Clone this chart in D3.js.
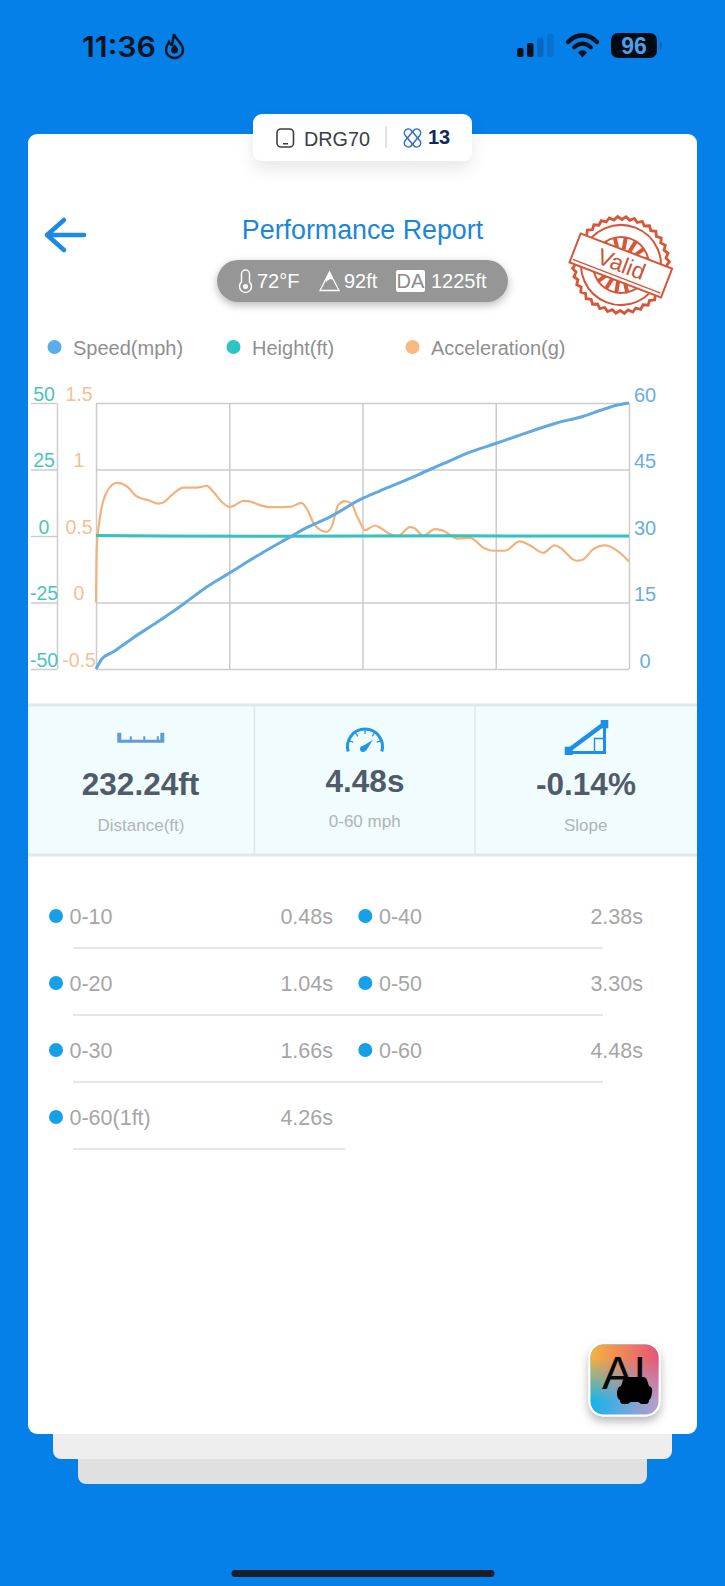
<!DOCTYPE html>
<html>
<head>
<meta charset="utf-8">
<script src="https://cdn.jsdelivr.net/npm/d3@7"></script>
<style>
  html, body { margin: 0; padding: 0; background: #0580e8; }
  svg { display: block; font-family: "Liberation Sans", Arial, sans-serif; }
</style>
</head>
<body>
<svg id="chart" width="725" height="1586"></svg>
<script>
// chart values
const speedTimes = [0, 0.048, 0.146, 0.314, 0.51, 0.622, 0.748, 0.93, 1.115, 1.378, 1.659, 1.743, 1.967, 2.219, 2.387, 2.555, 2.807, 2.919, 3.143, 3.353, 3.535, 3.872, 4.082, 4.236, 4.376, 4.48];
const speedValues = [0, 2.2, 3.9, 7.06, 10.5, 12.5, 14.9, 18.5, 21.55, 25.9, 30.2, 31.5, 34.3, 38.2, 40.2, 42.05, 45, 46.3, 48.9, 50.8, 52.5, 55.5, 56.9, 58.3, 59.5, 60];

const accelTimes = [0, 0.003, 0.008, 0.022, 0.048, 0.084, 0.132, 0.174, 0.216, 0.272, 0.328, 0.384, 0.44, 0.524, 0.566, 0.636, 0.734, 0.846, 0.93, 0.986, 1.056, 1.126, 1.168, 1.238, 1.28, 1.378, 1.462, 1.63, 1.728, 1.77, 1.84, 1.938, 1.98, 2.036, 2.092, 2.148, 2.19, 2.218, 2.26, 2.344, 2.386, 2.47, 2.54, 2.638, 2.68, 2.75, 2.848, 2.904, 3.044, 3.142, 3.268, 3.338, 3.436, 3.562, 3.646, 3.758, 3.856, 3.898, 4.038, 4.094, 4.178, 4.276, 4.374, 4.48];
const accelValues = [0, 0.243, 0.444, 0.569, 0.719, 0.819, 0.882, 0.899, 0.894, 0.864, 0.807, 0.782, 0.769, 0.744, 0.752, 0.807, 0.864, 0.864, 0.877, 0.832, 0.757, 0.719, 0.732, 0.764, 0.762, 0.732, 0.717, 0.719, 0.749, 0.707, 0.581, 0.531, 0.569, 0.732, 0.762, 0.744, 0.656, 0.606, 0.544, 0.579, 0.564, 0.514, 0.501, 0.566, 0.556, 0.501, 0.551, 0.544, 0.481, 0.486, 0.406, 0.389, 0.389, 0.459, 0.431, 0.374, 0.429, 0.414, 0.314, 0.324, 0.399, 0.429, 0.394, 0.309];

const heightTimes = [0, 0.6, 1.4, 2.2, 3.0, 3.8, 4.48];
const heightValues = [0.2, 0, -0.1, 0, 0.1, 0, 0];

const speedTicks = [0, 15, 30, 45, 60];
const heightTicks = [-50, -25, 0, 25, 50];
const accelTicks = [-0.5, 0, 0.5, 1, 1.5];
const timeTicks = [0, 1.12, 2.24, 3.36, 4.48];

const legendLabels = ['Speed(mph)', 'Height(ft)', 'Acceleration(g)'];
const splitLabels = ['0-10', '0-20', '0-30', '0-60(1ft)', '0-40', '0-50', '0-60'];
const splitTimes = ['0.48s', '1.04s', '1.66s', '4.26s', '2.38s', '3.30s', '4.48s'];
const statValues = ['232.24ft', '4.48s', '-0.14%'];
const statLabels = ['Distance(ft)', '0-60 mph', 'Slope'];

const svg = d3.select('#chart');
const defs = svg.append('defs');

function shadow(id, dy, blur, op) {
  defs.append('filter').attr('id', id)
    .attr('x', '-30%').attr('y', '-50%').attr('width', '160%').attr('height', '220%')
    .append('feDropShadow')
    .attr('dx', 0).attr('dy', dy).attr('stdDeviation', blur)
    .attr('flood-color', '#000').attr('flood-opacity', op);
}
shadow('softShadow', 8, 8, 0.09);
shadow('pillShadow', 3, 4, 0.28);
shadow('aiShadow', 5, 5, 0.28);

function text(parent, x, y, str, size, fill, opts = {}) {
  return parent.append('text')
    .attr('x', x).attr('y', y)
    .attr('font-size', size)
    .attr('fill', fill)
    .attr('text-anchor', opts.anchor || 'start')
    .attr('font-weight', opts.weight || 'normal')
    .attr('font-family', opts.family || null)
    .text(str);
}

// page background and stacked cards
svg.append('rect').attr('width', 725).attr('height', 1586).attr('fill', '#0580e8');
svg.append('rect').attr('x', 78).attr('y', 1440).attr('width', 569).attr('height', 44).attr('rx', 8).attr('fill', '#e0e0e0');
svg.append('rect').attr('x', 53).attr('y', 1410).attr('width', 619).attr('height', 49).attr('rx', 8).attr('fill', '#eeeeee');
svg.append('rect').attr('x', 28).attr('y', 134).attr('width', 669).attr('height', 1300).attr('rx', 9).attr('fill', '#fff');

// status bar
const status = svg.append('g');
text(status, 82, 57, '11:36', 29, '#0b1420', { weight: 600, family: 'Inter' }).attr('textLength', 74).attr('lengthAdjust', 'spacingAndGlyphs');
status.append('path')
  .attr('d', 'M174 34c1 5 9 9 9 16a8.500 8 0 0 1-17 0c0-4 2-6 3-8 1 2 2 3 3 3 1-3 1-7 2-11z')
  .attr('fill', 'none').attr('stroke', '#0b1420').attr('stroke-width', 2.4);
status.append('path')
  .attr('d', 'M174.500 44c1 2 3.500 3 3.500 6a3.500 3.500 0 0 1-7 0c0-2.500 2.500-3.500 3.500-6z')
  .attr('fill', '#0b1420');

const bars = [[517, 48, 9, '#08111e'], [527, 43, 14, '#08111e'], [537, 38, 19, '#0467bd'], [547, 34, 23, '#0671cf']];
status.selectAll('rect.sig').data(bars).join('rect').attr('class', 'sig')
  .attr('x', d => d[0]).attr('y', d => d[1]).attr('width', 6.500).attr('height', d => d[2]).attr('rx', 2).attr('fill', d => d[3]);

status.append('path').attr('d', 'M568 42c9-9 20-9 29 0').attr('fill', 'none').attr('stroke', '#08111e').attr('stroke-width', 4.500).attr('stroke-linecap', 'round');
status.append('path').attr('d', 'M574 47.500c5.500-5 11.500-5 17 0').attr('fill', 'none').attr('stroke', '#08111e').attr('stroke-width', 4).attr('stroke-linecap', 'round');
status.append('path').attr('d', 'M578 52.500c3-3 6-3 9 0l-4.500 5z').attr('fill', '#08111e');

status.append('rect').attr('x', 611).attr('y', 33).attr('width', 46).attr('height', 25).attr('rx', 7).attr('fill', '#020a14');
status.append('path').attr('d', 'M660 41c2.500 1 2.500 8 0 9z').attr('fill', '#0467bd');
text(status, 634, 54, '96', 23, '#4d9fe6', { anchor: 'middle', weight: 'bold' });

// device pill
const pill = svg.append('g');
pill.append('rect').attr('x', 253).attr('y', 114).attr('width', 219).attr('height', 47).attr('rx', 9).attr('fill', '#fff').attr('filter', 'url(#softShadow)');
pill.append('rect').attr('x', 277).attr('y', 129).attr('width', 16.500).attr('height', 18).attr('rx', 4).attr('fill', 'none').attr('stroke', '#3b3f44').attr('stroke-width', 1.600);
pill.append('rect').attr('x', 283).attr('y', 143).attr('width', 5).attr('height', 1.500).attr('fill', '#3b3f44');
text(pill, 304, 146, 'DRG70', 19.500, '#3a3e44').attr('textLength', 66).attr('lengthAdjust', 'spacingAndGlyphs');
pill.append('line').attr('x1', 386).attr('x2', 386).attr('y1', 126).attr('y2', 148).attr('stroke', '#c8c8c8').attr('stroke-width', 1);
const sat = pill.append('g').attr('fill', 'none').attr('stroke', '#2f6fc0').attr('stroke-width', 1.500);
sat.append('rect').attr('x', 402).attr('y', 134).attr('width', 21).attr('height', 8).attr('rx', 4).attr('transform', 'rotate(50 412.500 138)');
sat.append('rect').attr('x', 402).attr('y', 134).attr('width', 21).attr('height', 8).attr('rx', 4).attr('transform', 'rotate(-50 412.500 138)');
text(pill, 428, 144, '13', 20, '#0d2a5e', { weight: 'bold' });

// header
const header = svg.append('g');
header.append('path').attr('d', 'M84 235H48M64 220L47 235L64 250')
  .attr('fill', 'none').attr('stroke', '#1e88e5').attr('stroke-width', 4.500).attr('stroke-linecap', 'round').attr('stroke-linejoin', 'round');
text(header, 362.500, 239, 'Performance Report', 26.800, '#1a86d8', { anchor: 'middle' });

const envPill = svg.append('g');
envPill.append('rect').attr('x', 217).attr('y', 260).attr('width', 291).attr('height', 42).attr('rx', 21).attr('fill', '#969696').attr('filter', 'url(#pillShadow)');
envPill.append('path').attr('d', 'M241.500 282v-8a4 4 0 0 1 8 0v8a6 6 0 1 1-8 0z').attr('fill', 'none').attr('stroke', '#fff').attr('stroke-width', 1.400);
envPill.append('circle').attr('cx', 245.500).attr('cy', 286.500).attr('r', 2.500).attr('fill', '#fff');
text(envPill, 257, 288, '72°F', 20, '#fff');
envPill.append('path').attr('d', 'M329.500 272L339 290.500H320z').attr('fill', 'none').attr('stroke', '#fff').attr('stroke-width', 1.300);
envPill.append('path').attr('d', 'M329.500 272L334 280L330 279L326 282L325 280z').attr('fill', '#fff');
text(envPill, 344, 288, '92ft', 20, '#fff');
envPill.append('rect').attr('x', 396).attr('y', 270).attr('width', 29).attr('height', 22).attr('rx', 2).attr('fill', '#fff');
text(envPill, 410.500, 288, 'DA', 20, '#8c8c8c', { anchor: 'middle' });
text(envPill, 431, 288, '1225ft', 20, '#fff');

// valid stamp
const stamp = svg.append('g').attr('transform', 'translate(621,265) rotate(21)');
const stampColor = '#d5573a';
const teeth = d3.range(72).map(i => {
  const r = i % 2 ? 48.500 : 45.500;
  const a = i / 72 * 2 * Math.PI;
  return [r * Math.cos(a), r * Math.sin(a)];
});
stamp.append('path').attr('d', d3.line().curve(d3.curveLinearClosed)(teeth)).attr('fill', 'none').attr('stroke', stampColor).attr('stroke-width', 2.800);
stamp.append('circle').attr('r', 40).attr('fill', 'none').attr('stroke', stampColor).attr('stroke-width', 2);
stamp.append('circle').attr('r', 28).attr('fill', 'none').attr('stroke', stampColor).attr('stroke-width', 2);
stamp.selectAll('line.ray').data(d3.range(16)).join('line').attr('class', 'ray')
  .attr('x1', d => 16 * Math.cos((d + 0.5) / 16 * 2 * Math.PI)).attr('y1', d => 16 * Math.sin((d + 0.5) / 16 * 2 * Math.PI))
  .attr('x2', d => 28 * Math.cos((d + 0.5) / 16 * 2 * Math.PI)).attr('y2', d => 28 * Math.sin((d + 0.5) / 16 * 2 * Math.PI))
  .attr('stroke', stampColor).attr('stroke-width', 4);
stamp.append('rect').attr('x', -49).attr('y', -15).attr('width', 98).attr('height', 31).attr('fill', '#fff').attr('stroke', stampColor).attr('stroke-width', 2);
stamp.append('line').attr('x1', -47).attr('x2', 47).attr('y1', 12).attr('y2', 12).attr('stroke', stampColor).attr('stroke-width', 1.400);
text(stamp, 0, 7, 'Valid', 23, '#c9553c', { anchor: 'middle' });

// legend
const legendX = [54.500, 233.500, 412.500];
const legendColors = ['#5aaeea', '#2cc4c4', '#f9b982'];
const legend = svg.append('g').selectAll('g').data(legendLabels).join('g')
  .attr('transform', (d, i) => `translate(${legendX[i]},347)`);
legend.append('circle').attr('r', 7).attr('fill', (d, i) => legendColors[i]);
legend.append('text').attr('x', 18.500).attr('y', 8).attr('font-size', 20).attr('fill', '#8f8f8f').text(d => d);

// chart
const plot = { left: 96, right: 629, top: 403, bottom: 669 };
const x = d3.scaleLinear().domain([0, 4.48]).range([plot.left, plot.right]);
const ySpeed = d3.scaleLinear().domain([0, 60]).range([plot.bottom, plot.top]);
const yHeight = d3.scaleLinear().domain([-50, 50]).range([plot.bottom, plot.top]);
const yAccel = d3.scaleLinear().domain([-0.5, 1.5]).range([plot.bottom, plot.top]);

const gridColor = '#cccccc';
const axisFont = '"Liberation Sans", Arial, sans-serif';

svg.append('g').attr('transform', `translate(0,${plot.bottom})`)
  .call(d3.axisBottom(x).tickValues(timeTicks).tickSize(plot.top - plot.bottom).tickFormat(''))
  .call(g => g.select('.domain').remove())
  .call(g => g.selectAll('line').attr('stroke', gridColor).attr('stroke-width', 1.500));

svg.append('g').attr('transform', `translate(${plot.left},0)`)
  .call(d3.axisLeft(ySpeed).tickValues(speedTicks).tickSize(plot.left - plot.right).tickFormat(''))
  .call(g => g.select('.domain').remove())
  .call(g => g.selectAll('line').attr('stroke', gridColor).attr('stroke-width', 1.500));

// left height axis, labels sit above the tick marks
svg.append('g').attr('transform', 'translate(57,0)')
  .call(d3.axisLeft(yHeight).tickValues(heightTicks).tickSize(26).tickSizeOuter(0).tickFormat(d => String(d)))
  .call(g => g.select('.domain').attr('stroke', gridColor).attr('stroke-width', 1.500))
  .call(g => g.selectAll('line').attr('stroke', gridColor).attr('stroke-width', 1.500))
  .call(g => g.selectAll('text')
    .attr('x', -13).attr('y', -3).attr('dy', 0).attr('text-anchor', 'middle')
    .attr('font-size', 19.500).attr('font-family', axisFont).attr('fill', '#4cc4c0'));

svg.append('g').attr('transform', 'translate(79,0)')
  .call(d3.axisLeft(yAccel).tickValues(accelTicks).tickSize(0).tickFormat(d => String(d)))
  .call(g => g.select('.domain').remove())
  .call(g => g.selectAll('text')
    .attr('x', 0).attr('y', -3).attr('dy', 0).attr('text-anchor', 'middle')
    .attr('font-size', 19.500).attr('font-family', axisFont).attr('fill', '#f5c095'));

svg.append('g').attr('transform', 'translate(645,0)')
  .call(d3.axisRight(ySpeed).tickValues(speedTicks).tickSize(0).tickFormat(d => String(d)))
  .call(g => g.select('.domain').remove())
  .call(g => g.selectAll('text')
    .attr('x', 0).attr('y', -2).attr('dy', 0).attr('text-anchor', 'middle')
    .attr('font-size', 20).attr('font-family', axisFont).attr('fill', '#6aaee0'));

function drawLine(times, values, yScale, color, width, curve) {
  const line = d3.line()
    .x((d, i) => x(times[i]))
    .y(d => yScale(d))
    .curve(curve);
  svg.append('path').datum(values)
    .attr('d', line)
    .attr('fill', 'none')
    .attr('stroke', color)
    .attr('stroke-width', width)
    .attr('stroke-linejoin', 'round');
}
drawLine(accelTimes, accelValues, yAccel, '#f2b27c', 2.200, d3.curveMonotoneX);
drawLine(heightTimes, heightValues, yHeight, '#35c3bd', 3, d3.curveLinear);
drawLine(speedTimes, speedValues, ySpeed, '#62a9e0', 3, d3.curveMonotoneX);

// stats band
const band = svg.append('g');
band.append('rect').attr('x', 28).attr('y', 705).attr('width', 669).attr('height', 150).attr('fill', '#f0fcfe');
band.selectAll('line.h').data([705, 855]).join('line').attr('class', 'h')
  .attr('x1', 28).attr('x2', 697).attr('y1', d => d).attr('y2', d => d)
  .attr('stroke', '#dfe8ea').attr('stroke-width', 3);
band.selectAll('line.v').data([254.500, 475]).join('line').attr('class', 'v')
  .attr('x1', d => d).attr('x2', d => d).attr('y1', 706).attr('y2', 854)
  .attr('stroke', '#dfe8ea').attr('stroke-width', 1.500);

const statX = [140.500, 365, 586];
const statValueY = [795, 792, 795];
const statLabelX = [141, 364.700, 585.700];
const statLabelY = [831, 827, 831];
band.selectAll('text.val').data(statValues).join('text').attr('class', 'val')
  .attr('x', (d, i) => statX[i]).attr('y', (d, i) => statValueY[i])
  .attr('text-anchor', 'middle').attr('font-size', 31.500).attr('font-weight', 'bold').attr('fill', '#4f5b69').text(d => d);
band.selectAll('text.lab').data(statLabels).join('text').attr('class', 'lab')
  .attr('x', (d, i) => statLabelX[i]).attr('y', (d, i) => statLabelY[i])
  .attr('text-anchor', 'middle').attr('font-size', 17).attr('fill', '#b0b5b8').text(d => d);

// ruler icon
band.append('path').attr('d', 'M117.300 732.700h4v7h8.500v-3.500h2v3.500h11.500v-3.500h2v3.500h11.500v-3.500h2v3.500h1.500v-7h4v10h-47z').attr('fill', '#5f9bd6');
// gauge icon
band.append('path').attr('d', 'M348.200 751.500A17.500 17.500 0 1 1 381.800 751.500').attr('fill', 'none').attr('stroke', '#2196e8').attr('stroke-width', 3);
band.selectAll('line.gt').data([-70, -35, 0, 35, 70]).join('line').attr('class', 'gt')
  .attr('x1', 365).attr('x2', 365).attr('y1', 730).attr('y2', 734)
  .attr('transform', d => `rotate(${d} 365 746.500)`).attr('stroke', '#2196e8').attr('stroke-width', 1.300);
band.append('path').attr('d', 'M361 747L372.700 740L366 751z').attr('fill', '#2196e8');
band.append('circle').attr('cx', 363).attr('cy', 749).attr('r', 3).attr('fill', '#2196e8');
// slope icon
band.append('path').attr('d', 'M569 750L604 724').attr('fill', 'none').attr('stroke', '#1e8fe8').attr('stroke-width', 4.500);
band.append('path').attr('d', 'M570 752.500H604.500V724').attr('fill', 'none').attr('stroke', '#1e8fe8').attr('stroke-width', 3);
band.append('rect').attr('x', 564.700).attr('y', 746.700).attr('width', 8).attr('height', 8.300).attr('fill', '#1e8fe8');
band.append('rect').attr('x', 600.700).attr('y', 720).attr('width', 7.600).attr('height', 8.300).attr('fill', '#1e8fe8');
band.append('path').attr('d', 'M594.500 752V738.500H605').attr('fill', 'none').attr('stroke', '#1e8fe8').attr('stroke-width', 1.400);

// split times list
const rowY = i => 916 + 67 * i;
const splitRows = splitLabels.map((label, i) => {
  const right = i > 3;
  return { label, time: splitTimes[i], row: right ? i - 4 : i, right, last: i === 3 };
});
const rows = svg.append('g').selectAll('g').data(splitRows).join('g')
  .attr('transform', d => `translate(0,${rowY(d.row)})`);
rows.append('circle').attr('cx', d => d.right ? 365.300 : 56).attr('r', 7).attr('fill', '#16a0e8');
rows.append('text').attr('x', d => d.right ? 379 : 69.500).attr('y', 8)
  .attr('font-size', 21.500).attr('fill', '#a6a6a6').text(d => d.label);
rows.append('text').attr('x', d => d.right ? 643 : 333).attr('y', 8).attr('text-anchor', 'end')
  .attr('font-size', 21.500).attr('fill', '#a6a6a6').text(d => d.time);
rows.filter(d => !d.right).append('line')
  .attr('x1', 73).attr('x2', d => d.last ? 345 : 603).attr('y1', 32).attr('y2', 32)
  .attr('stroke', '#dedede').attr('stroke-width', 1.600);

// AI badge
const topGrad = defs.append('linearGradient').attr('id', 'aiTop');
topGrad.append('stop').attr('offset', '0').attr('stop-color', '#f5b33f');
topGrad.append('stop').attr('offset', '1').attr('stop-color', '#e4557a');
const botGrad = defs.append('linearGradient').attr('id', 'aiBottom');
botGrad.append('stop').attr('offset', '0').attr('stop-color', '#12b5ec');
botGrad.append('stop').attr('offset', '1').attr('stop-color', '#bb9ccb');
const fade = defs.append('linearGradient').attr('id', 'aiFade').attr('x1', 0).attr('x2', 0).attr('y1', 0).attr('y2', 1);
fade.append('stop').attr('offset', '0.2').attr('stop-color', '#fff');
fade.append('stop').attr('offset', '0.8').attr('stop-color', '#000');
defs.append('mask').attr('id', 'aiMask').attr('maskUnits', 'userSpaceOnUse').attr('x', 590).attr('y', 1344).attr('width', 69).attr('height', 71)
  .append('rect').attr('x', 590).attr('y', 1344).attr('width', 69).attr('height', 71).attr('fill', 'url(#aiFade)');

const badge = svg.append('g');
badge.append('rect').attr('x', 588.500).attr('y', 1342.500).attr('width', 72).attr('height', 74).attr('rx', 15).attr('fill', '#fff').attr('filter', 'url(#aiShadow)');
badge.append('rect').attr('x', 590.500).attr('y', 1344.500).attr('width', 68).attr('height', 70).attr('rx', 13).attr('fill', 'url(#aiBottom)');
badge.append('rect').attr('x', 590.500).attr('y', 1344.500).attr('width', 68).attr('height', 70).attr('rx', 13).attr('fill', 'url(#aiTop)').attr('mask', 'url(#aiMask)');
text(badge, 602, 1389, 'AI', 47, '#0a0a0a');
badge.append('path')
  .attr('d', 'M627 1377h16q3 0 4 3l2 6q4 1 3 7t-3 7q0 4-3 4h-5q-2-2-3-2h-7q-1 0-3 2h-5q-3 0-3-4q-3-1-3-7t4-7l2-6q1-3 4-3z')
  .attr('fill', '#000');

// home indicator
svg.append('rect').attr('x', 231.500).attr('y', 1570).attr('width', 263).attr('height', 7).attr('rx', 3.500).attr('fill', '#16202c');
</script>
</body>
</html>
